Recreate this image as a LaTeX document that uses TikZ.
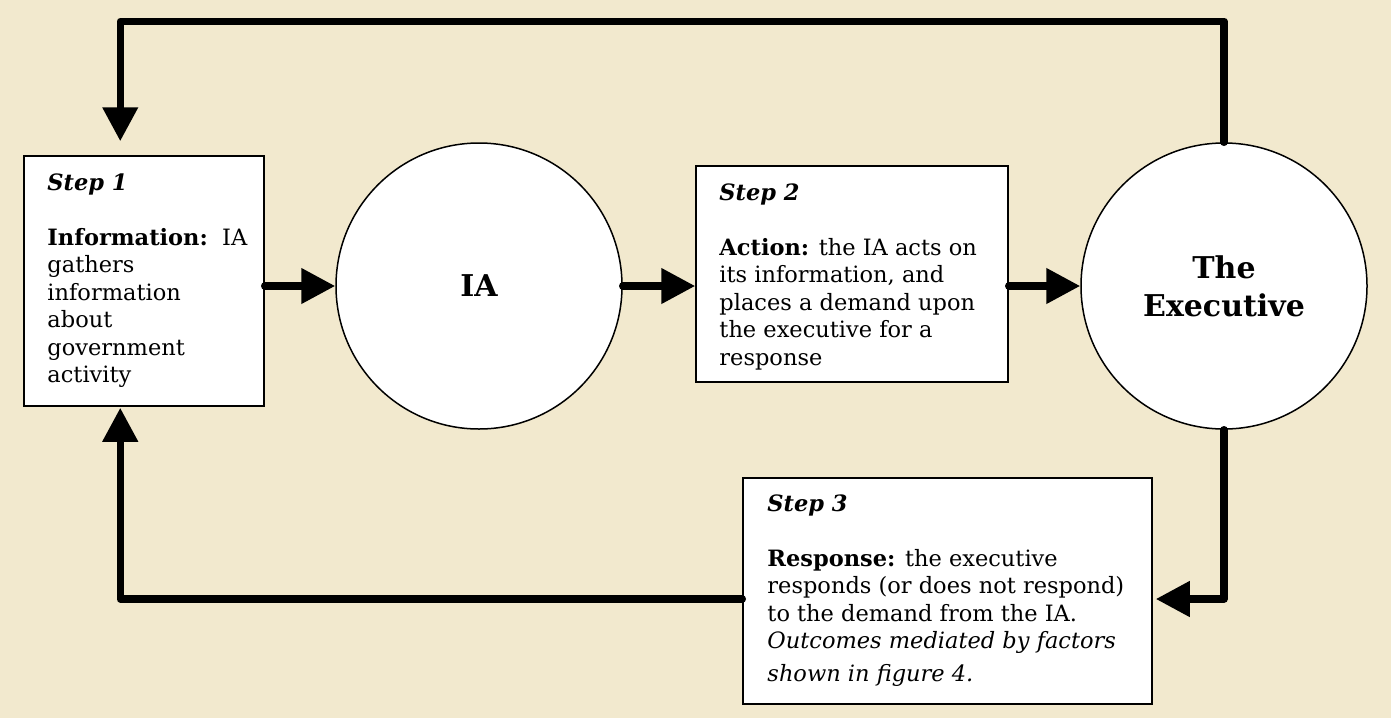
\documentclass[tikz,border=0pt]{standalone}
\usepackage{fontspec}
\setmainfont{DejaVu Serif}
\usetikzlibrary{arrows.meta,calc}
\definecolor{bgc}{RGB}{242,233,206}
\tikzset{
  boxnode/.style={draw=black, line width=1.5pt, fill=white, rectangle, inner sep=0pt},
  circnode/.style={draw=black, line width=1.5pt, fill=white, circle, inner sep=0pt, minimum size=286pt, font=\fontsize{30}{38}\selectfont\bfseries, align=center},
  txt/.style={inner sep=0pt, align=left, font=\fontsize{22.5}{27.5}\selectfont},
  conn/.style={line width=7.5pt, line cap=round, line join=round, -{Triangle[length=34pt,width=34pt]}},
}
\newcommand{\stephead}[1]{\textbf{\textit{#1}}}
\begin{document}
\begin{tikzpicture}[x=1pt,y=-1pt]
\fill[bgc] (0,0) rectangle (1391,718);
\useasboundingbox (0,0) rectangle (1391,718);
% boxes
\node[boxnode, minimum width=240pt, minimum height=250pt] (s1) at (144,281) {};
\node[boxnode, minimum width=312pt, minimum height=216pt] (s2) at (852,274) {};
\node[boxnode, minimum width=409pt, minimum height=226pt] (s3) at (947.5,591) {};
% circles
\node[circnode] (ia) at (479,286) {IA};
\node[circnode] (ex) at (1224,286) {The\\Executive};
% texts
\node[txt, anchor=north west] (t1) at ($(s1.north west)+(24,18)$) {\stephead{Step 1}\\[27.5pt]\textbf{Information:}\ \ IA\\gathers\\information\\about\\government\\activity};
\node[txt, anchor=north west] (t2) at ($(s2.north west)+(24,18)$) {\stephead{Step 2}\\[27.5pt]\textbf{Action:} the IA acts on\\its information, and\\places a demand upon\\the executive for a\\response};
\node[txt, anchor=north west] (t3) at ($(s3.north west)+(25,17)$) {\stephead{Step 3}\\[27.5pt]\textbf{Response:} the executive\\responds (or does not respond)\\to the demand from the IA.\\\textit{Outcomes mediated by factors}\\[5pt]\textit{shown in figure 4.}};
% coordinates
\coordinate (s1top) at ($(s1.north west)+(97,-14)$);
\coordinate (s1bot) at ($(s1.south west)+(97,1)$);
\coordinate (s3l) at ($(s3.west)+(0,8)$);
\coordinate (s3r) at ($(s3.east)+(3,8)$);
% connectors
\draw[conn] (s1.east |- ia.west) -- (ia.west);
\draw[conn] (ia.east) -- (s2.west |- ia.east);
\draw[conn] (s2.east |- ex.west) -- (ex.west);
\draw[conn] (ex.north) -- ++(0,-121) -| (s1top);
\draw[conn] (ex.south) |- (s3r);
\draw[conn] (s3l) -| (s1bot);
\end{tikzpicture}
\end{document}
